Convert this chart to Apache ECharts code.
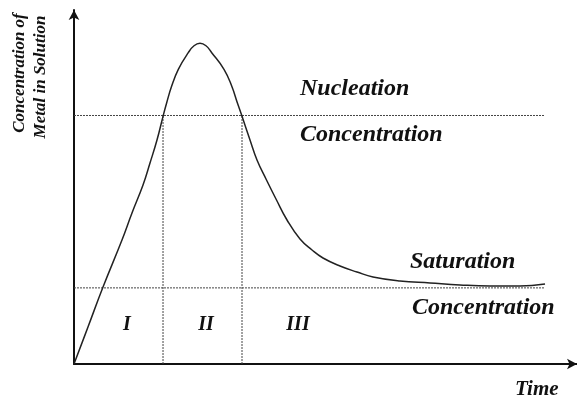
<!DOCTYPE html>
<html>
<head>
<meta charset="utf-8">
<script src="https://cdn.jsdelivr.net/npm/echarts@6/dist/echarts.min.js"></script>
<style>html,body{margin:0;padding:0;background:#fff;}#c{width:577px;height:402px;}</style>
</head>
<body>
<div id="c"></div>
<script>
// Time (0..100) and concentration (0..100)
const curveTime = [0, 2.78, 5.77, 9.54, 11.53, 13.72, 15.11, 16.50, 17.75, 18.43, 19.42, 20.74, 22.72, 23.86, 25.05, 26.24, 27.38, 29.82, 31.35, 32.47, 33.34, 34.99, 36.38, 38.27, 40.26, 42.35, 44.93, 47.32, 49.50, 52.88, 56.26, 59.44, 64.81, 70.78, 76.74, 82.70, 88.67, 93.64];
const curveConc = [0, 10.45, 21.75, 35.03, 42.66, 50.56, 56.78, 63.28, 70.25, 73.81, 78.53, 83.25, 87.94, 89.89, 90.59, 89.89, 87.94, 83.25, 78.53, 73.81, 70.25, 63.28, 57.63, 51.98, 46.33, 40.68, 35.31, 32.20, 29.94, 27.68, 25.99, 24.58, 23.45, 22.88, 22.32, 22.03, 22.03, 22.60];
const nucleationLevel = 70.2;
const saturationLevel = 21.5;
const phaseBoundaries = [17.7, 33.4];
const levelLineEnd = 93.6;
const phaseLabels = ['I', 'II', 'III'];
const yTitleLines = ['Concentration of', 'Metal in Solution'];
const xTitle = 'Time';
const nucleationText = ['Nucleation', 'Concentration'];
const saturationText = ['Saturation', 'Concentration'];

const curve = curveTime.map((t, i) => [t, curveConc[i]]);
const dotted = { color: '#444', width: 1, type: [2, 1] };
const font = '"Liberation Serif", "DejaVu Serif", serif';
const lineSeries = (data) => ({
  type: 'line', data, symbol: 'none', silent: true,
  lineStyle: dotted, z: 1
});
const txt = (text, x, y, size, extra) => Object.assign({
  type: 'text', x, y,
  style: Object.assign({ text, fill: '#111', font: 'italic bold ' + size + 'px ' + font, textAlign: 'left', textVerticalAlign: 'middle' }, extra || {})
});

const chart = echarts.init(document.getElementById('c'), null, { renderer: 'canvas' });
chart.setOption({
  animation: false,
  backgroundColor: '#fff',
  grid: { left: 74, right: 0, top: 10, bottom: 38 },
  xAxis: {
    type: 'value', min: 0, max: 100,
    axisLine: { show: true, symbol: ['none', 'arrow'], symbolSize: [8, 10], lineStyle: { color: '#111', width: 2 } },
    axisTick: { show: false }, axisLabel: { show: false }, splitLine: { show: false }
  },
  yAxis: {
    type: 'value', min: 0, max: 100,
    axisLine: { show: true, symbol: ['none', 'arrow'], symbolSize: [8, 10], lineStyle: { color: '#111', width: 2 } },
    axisTick: { show: false }, axisLabel: { show: false }, splitLine: { show: false }
  },
  series: [
    lineSeries([[0, nucleationLevel], [levelLineEnd, nucleationLevel]]),
    lineSeries([[0, saturationLevel], [levelLineEnd, saturationLevel]]),
    lineSeries([[phaseBoundaries[0], 0], [phaseBoundaries[0], nucleationLevel]]),
    lineSeries([[phaseBoundaries[1], 0], [phaseBoundaries[1], nucleationLevel]]),
    {
      type: 'line', data: curve, symbol: 'none', smooth: 0.45,
      lineStyle: { color: '#222', width: 1.5 }, z: 3
    }
  ],
  graphic: [
    txt(yTitleLines[0], 20, 73, 17, { textAlign: 'center' }),
    txt(yTitleLines[1], 41, 77, 17, { textAlign: 'center' }),
    txt(nucleationText[0], 300, 89, 24),
    txt(nucleationText[1], 300, 135, 24),
    txt(saturationText[0], 410, 262, 24),
    txt(saturationText[1], 412, 308, 24),
    txt(xTitle, 515, 390, 21),
    txt(phaseLabels[0], 127, 325, 20, { textAlign: 'center' }),
    txt(phaseLabels[1], 206, 325, 20, { textAlign: 'center' }),
    txt(phaseLabels[2], 298, 325, 20, { textAlign: 'center' })
  ].map((g, i) => (i < 2 ? Object.assign(g, { rotation: Math.PI / 2 }) : g))
});
</script>
</body>
</html>
